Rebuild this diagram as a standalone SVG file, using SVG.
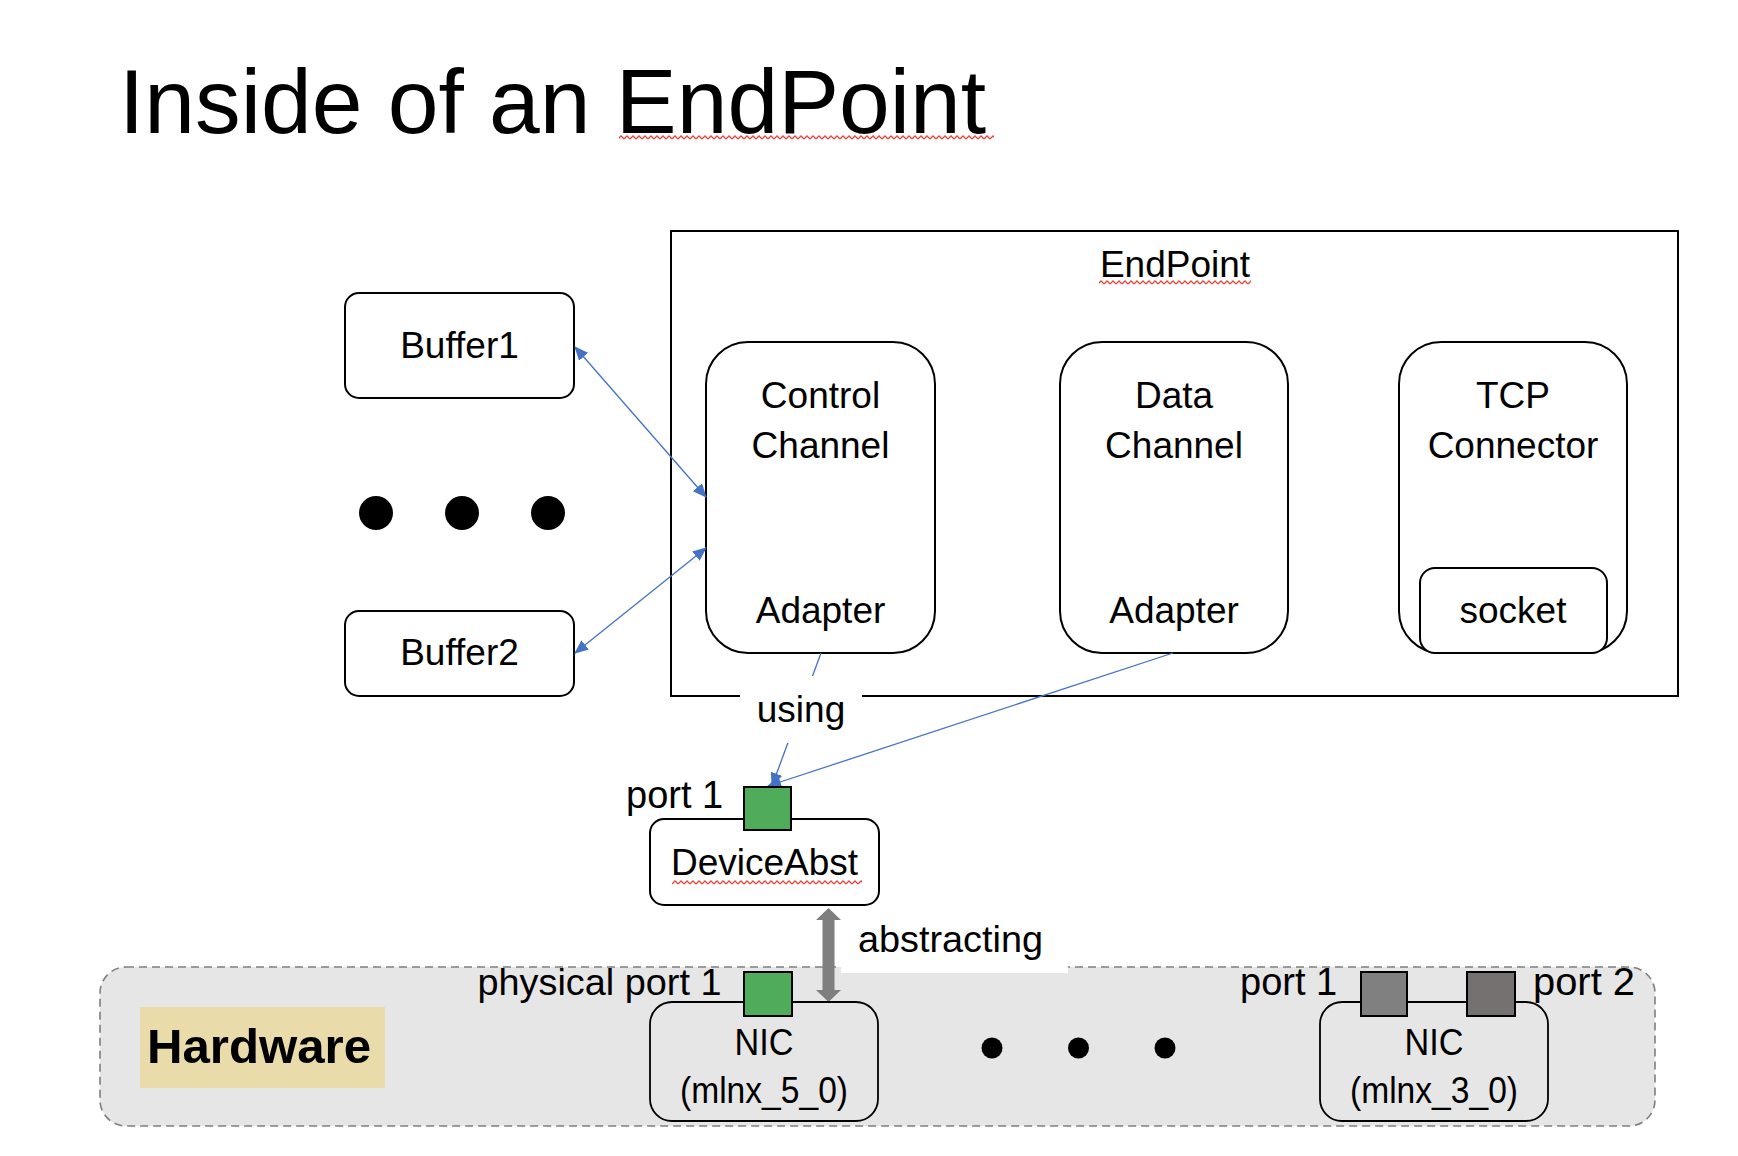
<svg xmlns="http://www.w3.org/2000/svg" width="1738" height="1156" viewBox="0 0 1738 1156">
<style>
text{font-family:"Liberation Sans",Arial,sans-serif;fill:#000}
.lbl{font-size:37px}
.mid{text-anchor:middle}
.box{fill:#fff;stroke:#000;stroke-width:2}
.hbox{fill:#e6e6e6;stroke:#000;stroke-width:1.8}
.blue{stroke:#4472c4;stroke-width:1.3;fill:none}
.sq{fill:url(#squig)}
.nic{font-size:36px}
</style>
<defs>
<marker id="ah" viewBox="0 0 14 12" refX="13" refY="6" markerWidth="14" markerHeight="12" markerUnits="userSpaceOnUse" orient="auto-start-reverse">
<path d="M0,0 L14,6 L0,12 z" fill="#4472c4"/>
</marker>
<pattern id="squig" x="0" y="0" width="6" height="5" patternUnits="userSpaceOnUse">
<polyline points="0,4 3,1 6,4" fill="none" stroke="#e8453c" stroke-width="1.3"/>
</pattern>
</defs>
<rect width="1738" height="1156" fill="#fff"/>
<g id="title">
<text x="119" y="133" style="font-size:90px" textLength="867" lengthAdjust="spacingAndGlyphs">Inside of an EndPoint</text>
<rect class="sq" x="619" y="135" width="375" height="5"/>
</g>
<g id="hardware">
<rect x="100" y="967" width="1555" height="159" rx="26" fill="#e6e6e6" stroke="#7f7f7f" stroke-width="1.6" stroke-dasharray="8 5"/>
<rect x="140" y="1007" width="245" height="81" fill="#eadbab"/>
<text x="147" y="1063" style="font-size:48px;font-weight:bold" textLength="224" lengthAdjust="spacingAndGlyphs">Hardware</text>
</g>
<g id="abstract-label">
<rect x="841" y="912" width="227" height="61" fill="#fff"/>
<text x="858" y="952" class="lbl" textLength="185" lengthAdjust="spacingAndGlyphs">abstracting</text>
</g>
<g id="endpoint">
<rect x="671" y="231" width="1007" height="465" fill="#fff" stroke="#000" stroke-width="2"/>
<text x="1175" y="277" class="lbl mid">EndPoint</text>
<rect class="sq" x="1099" y="280" width="152" height="5"/>
</g>
<g id="buffer1">
<rect class="box" x="345" y="293" width="229" height="105" rx="14"/>
<text x="459.5" y="358" class="lbl mid">Buffer1</text>
</g>
<g id="buffer2">
<rect class="box" x="345" y="611" width="229" height="85" rx="14"/>
<text x="459.5" y="665" class="lbl mid">Buffer2</text>
</g>
<g id="buffer-dots">
<circle cx="376" cy="513" r="17"/>
<circle cx="462" cy="513" r="17"/>
<circle cx="548" cy="513" r="17"/>
</g>
<g id="control-channel">
<rect class="box" x="706" y="342" width="229" height="311" rx="42"/>
<text x="820.5" y="408" class="lbl mid">Control</text>
<text x="820.5" y="458" class="lbl mid">Channel</text>
<text x="820.5" y="623" class="lbl mid">Adapter</text>
</g>
<g id="data-channel">
<rect class="box" x="1060" y="342" width="228" height="311" rx="42"/>
<text x="1174" y="408" class="lbl mid">Data</text>
<text x="1174" y="458" class="lbl mid">Channel</text>
<text x="1174" y="623" class="lbl mid">Adapter</text>
</g>
<g id="tcp-connector">
<rect class="box" x="1399" y="342" width="228" height="311" rx="42"/>
<text x="1513" y="408" class="lbl mid">TCP</text>
<text x="1513" y="458" class="lbl mid">Connector</text>
<rect class="box" x="1420" y="568" width="187" height="85" rx="15"/>
<text x="1513" y="623" class="lbl mid">socket</text>
</g>
<g id="connectors">
<line class="blue" x1="575" y1="347" x2="706" y2="497" marker-start="url(#ah)" marker-end="url(#ah)"/>
<line class="blue" x1="706" y1="548" x2="575" y2="653" marker-start="url(#ah)" marker-end="url(#ah)"/>
<line class="blue" x1="1173" y1="653" x2="768" y2="786" marker-end="url(#ah)"/>
<line class="blue" x1="821" y1="653" x2="772" y2="786" marker-end="url(#ah)"/>
<polygon points="828.5,908 841,920 834.5,920 834.5,990 841,990 828.5,1002 816,990 822.5,990 822.5,920 816,920" fill="#7f7f7f"/>
</g>
<g id="using-label">
<rect x="740" y="676" width="122" height="67" fill="#fff"/>
<text x="801" y="722" class="lbl mid">using</text>
</g>
<g id="device-abst">
<rect class="box" x="650" y="819" width="229" height="86" rx="14"/>
<text x="764.5" y="875" class="lbl mid">DeviceAbst</text>
<rect class="sq" x="672" y="880" width="190" height="5"/>
<rect x="744" y="787" width="47" height="43" fill="#4eac5b" stroke="#000" stroke-width="2"/>
<text x="626" y="808" class="lbl" style="font-size:38px">port 1</text>
</g>
<g id="nic1">
<rect class="hbox" x="650" y="1002" width="228" height="119" rx="22"/>
<text x="764" y="1055" class="mid nic" textLength="59" lengthAdjust="spacingAndGlyphs">NIC</text>
<text x="764" y="1103" class="mid nic" textLength="168" lengthAdjust="spacingAndGlyphs">(mlnx_5_0)</text>
<rect x="744" y="972" width="48" height="44" fill="#4eac5b" stroke="#000" stroke-width="2"/>
<text x="721.5" y="995" class="lbl" style="text-anchor:end" textLength="244" lengthAdjust="spacingAndGlyphs">physical port 1</text>
</g>
<g id="hw-dots">
<circle cx="992" cy="1048" r="10.5"/>
<circle cx="1078.5" cy="1048" r="10.5"/>
<circle cx="1165" cy="1048" r="10.5"/>
</g>
<g id="nic2">
<rect class="hbox" x="1320" y="1002" width="228" height="119" rx="22"/>
<text x="1434" y="1055" class="mid nic" textLength="59" lengthAdjust="spacingAndGlyphs">NIC</text>
<text x="1434" y="1103" class="mid nic" textLength="168" lengthAdjust="spacingAndGlyphs">(mlnx_3_0)</text>
<rect x="1361" y="972" width="46" height="44" fill="#808080" stroke="#000" stroke-width="2"/>
<rect x="1467" y="972" width="48" height="44" fill="#767171" stroke="#000" stroke-width="2"/>
<text x="1240" y="995" class="lbl" style="font-size:38px">port 1</text>
<text x="1533" y="995" class="lbl" style="font-size:38px" textLength="102" lengthAdjust="spacingAndGlyphs">port 2</text>
</g>
</svg>
